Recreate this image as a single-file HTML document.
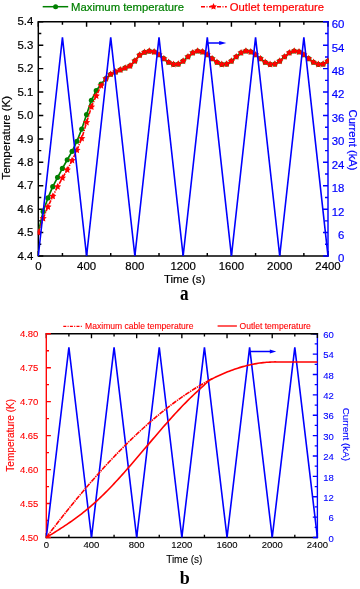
<!DOCTYPE html>
<html><head><meta charset="utf-8"><title>Temperature and current</title><style>
html,body{margin:0;padding:0;background:#fff;width:360px;height:589px;overflow:hidden;}
svg{display:block;will-change:transform;}
text{font-family:"Liberation Sans",sans-serif;}
.serif{font-family:"Liberation Serif",serif;font-weight:bold;}
text{stroke-width:0.2px;}
text[fill="#000"]{stroke:#000;} text[fill="#ff0000"]{stroke:#ff0000;} text[fill="#0000ff"]{stroke:#0000ff;} text[fill="#008000"]{stroke:#008000;}
text.serif{stroke:none;} text.b{stroke-width:0.1px;}
</style></head><body>
<svg width="360" height="589" viewBox="0 0 360 589">
<rect x="0" y="0" width="360" height="589" fill="#fff"/>
<defs><clipPath id="clipA"><rect x="37.6" y="21.1" width="291.1" height="235.6"/></clipPath><clipPath id="clipB"><rect x="45.6" y="333.05" width="272.5" height="205.15"/></clipPath></defs>
<path d="M38.3 256 V251 M38.3 21.8 V26.8 M62.44 256 V253 M62.44 21.8 V24.8 M86.58 256 V251 M86.58 21.8 V26.8 M110.72 256 V253 M110.72 21.8 V24.8 M134.87 256 V251 M134.87 21.8 V26.8 M159.01 256 V253 M159.01 21.8 V24.8 M183.15 256 V251 M183.15 21.8 V26.8 M207.29 256 V253 M207.29 21.8 V24.8 M231.43 256 V251 M231.43 21.8 V26.8 M255.57 256 V253 M255.57 21.8 V24.8 M279.72 256 V251 M279.72 21.8 V26.8 M303.86 256 V253 M303.86 21.8 V24.8 M328 256 V251 M328 21.8 V26.8 M38.3 256 H43.3 M38.3 244.29 H41.3 M38.3 232.58 H43.3 M38.3 220.87 H41.3 M38.3 209.16 H43.3 M38.3 197.45 H41.3 M38.3 185.74 H43.3 M38.3 174.03 H41.3 M38.3 162.32 H43.3 M38.3 150.61 H41.3 M38.3 138.9 H43.3 M38.3 127.19 H41.3 M38.3 115.48 H43.3 M38.3 103.77 H41.3 M38.3 92.06 H43.3 M38.3 80.35 H41.3 M38.3 68.64 H43.3 M38.3 56.93 H41.3 M38.3 45.22 H43.3 M38.3 33.51 H41.3 M38.3 21.8 H43.3" stroke="#000" stroke-width="1.45" fill="none"/>
<path d="M38.3 21.8 H328 M38.3 256 H328 M38.3 21.8 V256" stroke="#000" stroke-width="1.45" fill="none" stroke-linecap="square"/>
<path d="M328 256 H323 M328 244.29 H325 M328 232.58 H323 M328 220.87 H325 M328 209.16 H323 M328 197.45 H325 M328 185.74 H323 M328 174.03 H325 M328 162.32 H323 M328 150.61 H325 M328 138.9 H323 M328 127.19 H325 M328 115.48 H323 M328 103.77 H325 M328 92.06 H323 M328 80.35 H325 M328 68.64 H323 M328 56.93 H325 M328 45.22 H323 M328 33.51 H325 M328 21.8 H323" stroke="#0000ff" stroke-width="1.45" fill="none"/>
<path d="M328 21.8 V256" stroke="#0000ff" stroke-width="1.45" fill="none" stroke-linecap="square"/>
<g clip-path="url(#clipA)">
<polyline points="38.3,232.58 43.13,211.5 47.96,197.92 52.78,186.68 57.61,177.31 62.44,168.41 67.27,159.74 72.1,151.31 76.93,141.24 81.75,129.06 86.58,114.54 91.41,100.26 96.24,90.65 101.07,84.1 105.9,78.71 110.72,74.26 115.55,71.92 120.38,69.81 125.21,67.94 130.04,65.83 134.87,60.91 139.69,55.06 144.52,52.25 149.35,51.08 154.18,51.85 159.01,54.74 163.84,58.65 168.67,62.26 173.49,64.33 178.32,64.05 183.15,61.11 187.98,56.73 192.81,52.79 197.63,50.98 202.46,51.85 207.29,54.74 212.12,58.65 216.95,62.26 221.78,64.33 226.61,64.05 231.43,61.11 236.26,56.73 241.09,52.79 245.92,50.98 250.75,51.85 255.57,54.74 260.4,58.65 265.23,62.26 270.06,64.33 274.89,64.05 279.72,61.11 284.54,56.73 289.37,52.79 294.2,50.98 299.03,51.85 303.86,54.74 308.69,58.65 313.51,62.26 318.34,64.33 323.17,64.05 328,61.11" fill="none" stroke="#008000" stroke-width="1.7" stroke-linejoin="round"/>
<circle cx="43.13" cy="211.5" r="2.6" fill="#008000"/>
<circle cx="47.96" cy="197.92" r="2.6" fill="#008000"/>
<circle cx="52.78" cy="186.68" r="2.6" fill="#008000"/>
<circle cx="57.61" cy="177.31" r="2.6" fill="#008000"/>
<circle cx="62.44" cy="168.41" r="2.6" fill="#008000"/>
<circle cx="67.27" cy="159.74" r="2.6" fill="#008000"/>
<circle cx="72.1" cy="151.31" r="2.6" fill="#008000"/>
<circle cx="76.93" cy="141.24" r="2.6" fill="#008000"/>
<circle cx="81.75" cy="129.06" r="2.6" fill="#008000"/>
<circle cx="86.58" cy="114.54" r="2.6" fill="#008000"/>
<circle cx="91.41" cy="100.26" r="2.6" fill="#008000"/>
<circle cx="96.24" cy="90.65" r="2.6" fill="#008000"/>
<circle cx="101.07" cy="84.1" r="2.6" fill="#008000"/>
<circle cx="105.9" cy="78.71" r="2.6" fill="#008000"/>
<circle cx="110.72" cy="74.26" r="2.6" fill="#008000"/>
<circle cx="115.55" cy="71.92" r="2.6" fill="#008000"/>
<circle cx="120.38" cy="69.81" r="2.6" fill="#008000"/>
<circle cx="125.21" cy="67.94" r="2.6" fill="#008000"/>
<circle cx="130.04" cy="65.83" r="2.6" fill="#008000"/>
<circle cx="134.87" cy="60.91" r="2.6" fill="#008000"/>
<circle cx="139.69" cy="55.06" r="2.6" fill="#008000"/>
<circle cx="144.52" cy="52.25" r="2.6" fill="#008000"/>
<circle cx="149.35" cy="51.08" r="2.6" fill="#008000"/>
<circle cx="154.18" cy="51.85" r="2.6" fill="#008000"/>
<circle cx="159.01" cy="54.74" r="2.6" fill="#008000"/>
<circle cx="163.84" cy="58.65" r="2.6" fill="#008000"/>
<circle cx="168.67" cy="62.26" r="2.6" fill="#008000"/>
<circle cx="173.49" cy="64.33" r="2.6" fill="#008000"/>
<circle cx="178.32" cy="64.05" r="2.6" fill="#008000"/>
<circle cx="183.15" cy="61.11" r="2.6" fill="#008000"/>
<circle cx="187.98" cy="56.73" r="2.6" fill="#008000"/>
<circle cx="192.81" cy="52.79" r="2.6" fill="#008000"/>
<circle cx="197.63" cy="50.98" r="2.6" fill="#008000"/>
<circle cx="202.46" cy="51.85" r="2.6" fill="#008000"/>
<circle cx="207.29" cy="54.74" r="2.6" fill="#008000"/>
<circle cx="212.12" cy="58.65" r="2.6" fill="#008000"/>
<circle cx="216.95" cy="62.26" r="2.6" fill="#008000"/>
<circle cx="221.78" cy="64.33" r="2.6" fill="#008000"/>
<circle cx="226.61" cy="64.05" r="2.6" fill="#008000"/>
<circle cx="231.43" cy="61.11" r="2.6" fill="#008000"/>
<circle cx="236.26" cy="56.73" r="2.6" fill="#008000"/>
<circle cx="241.09" cy="52.79" r="2.6" fill="#008000"/>
<circle cx="245.92" cy="50.98" r="2.6" fill="#008000"/>
<circle cx="250.75" cy="51.85" r="2.6" fill="#008000"/>
<circle cx="255.57" cy="54.74" r="2.6" fill="#008000"/>
<circle cx="260.4" cy="58.65" r="2.6" fill="#008000"/>
<circle cx="265.23" cy="62.26" r="2.6" fill="#008000"/>
<circle cx="270.06" cy="64.33" r="2.6" fill="#008000"/>
<circle cx="274.89" cy="64.05" r="2.6" fill="#008000"/>
<circle cx="279.72" cy="61.11" r="2.6" fill="#008000"/>
<circle cx="284.54" cy="56.73" r="2.6" fill="#008000"/>
<circle cx="289.37" cy="52.79" r="2.6" fill="#008000"/>
<circle cx="294.2" cy="50.98" r="2.6" fill="#008000"/>
<circle cx="299.03" cy="51.85" r="2.6" fill="#008000"/>
<circle cx="303.86" cy="54.74" r="2.6" fill="#008000"/>
<circle cx="308.69" cy="58.65" r="2.6" fill="#008000"/>
<circle cx="313.51" cy="62.26" r="2.6" fill="#008000"/>
<circle cx="318.34" cy="64.33" r="2.6" fill="#008000"/>
<circle cx="323.17" cy="64.05" r="2.6" fill="#008000"/>
<circle cx="328" cy="61.11" r="2.6" fill="#008000"/>
<polyline points="38.3,232.58 43.13,218.53 47.96,206.82 52.78,196.28 57.61,186.68 62.44,178.01 67.27,169.81 72.1,160.45 76.93,150.14 81.75,138.43 86.58,122.51 91.41,106.81 96.24,95.81 101.07,85.74 105.9,78.71 110.72,74.26 115.55,71.92 120.38,69.81 125.21,67.94 130.04,65.83 134.87,60.91 139.69,55.06 144.52,52.25 149.35,51.08 154.18,51.85 159.01,54.74 163.84,58.65 168.67,62.26 173.49,64.33 178.32,64.05 183.15,61.11 187.98,56.73 192.81,52.79 197.63,50.98 202.46,51.85 207.29,54.74 212.12,58.65 216.95,62.26 221.78,64.33 226.61,64.05 231.43,61.11 236.26,56.73 241.09,52.79 245.92,50.98 250.75,51.85 255.57,54.74 260.4,58.65 265.23,62.26 270.06,64.33 274.89,64.05 279.72,61.11 284.54,56.73 289.37,52.79 294.2,50.98 299.03,51.85 303.86,54.74 308.69,58.65 313.51,62.26 318.34,64.33 323.17,64.05 328,61.11" fill="none" stroke="#ff0000" stroke-width="1.6" stroke-dasharray="4.2 1.1 1.2 1.1" stroke-linejoin="round"/>
<path d="M38.3 228.78 L39.39 231.08 L41.91 231.41 L40.06 233.15 L40.53 235.65 L38.3 234.43 L36.07 235.65 L36.54 233.15 L34.69 231.41 L37.21 231.08Z M43.13 214.73 L44.22 217.03 L46.74 217.35 L44.89 219.1 L45.36 221.6 L43.13 220.38 L40.89 221.6 L41.37 219.1 L39.51 217.35 L42.04 217.03Z M47.96 203.02 L49.04 205.32 L51.57 205.64 L49.72 207.39 L50.19 209.89 L47.96 208.67 L45.72 209.89 L46.2 207.39 L44.34 205.64 L46.87 205.32Z M52.78 192.48 L53.87 194.78 L56.4 195.1 L54.54 196.85 L55.02 199.35 L52.78 198.13 L50.55 199.35 L51.03 196.85 L49.17 195.1 L51.7 194.78Z M57.61 182.88 L58.7 185.18 L61.23 185.5 L59.37 187.25 L59.85 189.75 L57.61 188.53 L55.38 189.75 L55.85 187.25 L54 185.5 L56.53 185.18Z M62.44 174.21 L63.53 176.51 L66.06 176.84 L64.2 178.58 L64.68 181.09 L62.44 179.86 L60.21 181.09 L60.68 178.58 L58.83 176.84 L61.35 176.51Z M67.27 166.01 L68.36 168.32 L70.88 168.64 L69.03 170.39 L69.5 172.89 L67.27 171.66 L65.04 172.89 L65.51 170.39 L63.66 168.64 L66.18 168.32Z M72.1 156.65 L73.19 158.95 L75.71 159.27 L73.86 161.02 L74.33 163.52 L72.1 162.3 L69.86 163.52 L70.34 161.02 L68.48 159.27 L71.01 158.95Z M76.93 146.34 L78.01 148.64 L80.54 148.97 L78.69 150.71 L79.16 153.22 L76.93 151.99 L74.69 153.22 L75.17 150.71 L73.31 148.97 L75.84 148.64Z M81.75 134.63 L82.84 136.93 L85.37 137.26 L83.51 139 L83.99 141.51 L81.75 140.28 L79.52 141.51 L80 139 L78.14 137.26 L80.67 136.93Z M86.58 118.71 L87.67 121.01 L90.2 121.33 L88.34 123.08 L88.82 125.58 L86.58 124.36 L84.35 125.58 L84.82 123.08 L82.97 121.33 L85.5 121.01Z M91.41 103.01 L92.5 105.32 L95.03 105.64 L93.17 107.39 L93.65 109.89 L91.41 108.66 L89.18 109.89 L89.65 107.39 L87.8 105.64 L90.32 105.32Z M96.24 92.01 L97.33 94.31 L99.85 94.63 L98 96.38 L98.47 98.88 L96.24 97.66 L94.01 98.88 L94.48 96.38 L92.63 94.63 L95.15 94.31Z M101.07 81.94 L102.16 84.24 L104.68 84.56 L102.83 86.31 L103.3 88.81 L101.07 87.59 L98.83 88.81 L99.31 86.31 L97.45 84.56 L99.98 84.24Z M105.9 74.91 L106.98 77.21 L109.51 77.54 L107.66 79.28 L108.13 81.78 L105.9 80.56 L103.66 81.78 L104.14 79.28 L102.28 77.54 L104.81 77.21Z M110.72 70.46 L111.81 72.76 L114.34 73.09 L112.48 74.83 L112.96 77.34 L110.72 76.11 L108.49 77.34 L108.97 74.83 L107.11 73.09 L109.64 72.76Z M115.55 68.12 L116.64 70.42 L119.17 70.74 L117.31 72.49 L117.79 74.99 L115.55 73.77 L113.32 74.99 L113.79 72.49 L111.94 70.74 L114.47 70.42Z M120.38 66.01 L121.47 68.31 L124 68.64 L122.14 70.38 L122.62 72.89 L120.38 71.66 L118.15 72.89 L118.62 70.38 L116.77 68.64 L119.29 68.31Z M125.21 64.14 L126.3 66.44 L128.82 66.76 L126.97 68.51 L127.44 71.01 L125.21 69.79 L122.98 71.01 L123.45 68.51 L121.6 66.76 L124.12 66.44Z M130.04 62.03 L131.13 64.33 L133.65 64.66 L131.8 66.4 L132.27 68.9 L130.04 67.68 L127.8 68.9 L128.28 66.4 L126.42 64.66 L128.95 64.33Z M134.87 57.11 L135.95 59.41 L138.48 59.74 L136.63 61.48 L137.1 63.99 L134.87 62.76 L132.63 63.99 L133.11 61.48 L131.25 59.74 L133.78 59.41Z M139.69 51.26 L140.78 53.56 L143.31 53.88 L141.45 55.63 L141.93 58.13 L139.69 56.91 L137.46 58.13 L137.94 55.63 L136.08 53.88 L138.61 53.56Z M144.52 48.45 L145.61 50.75 L148.14 51.07 L146.28 52.82 L146.76 55.32 L144.52 54.1 L142.29 55.32 L142.76 52.82 L140.91 51.07 L143.44 50.75Z M149.35 47.28 L150.44 49.58 L152.97 49.9 L151.11 51.65 L151.59 54.15 L149.35 52.93 L147.12 54.15 L147.59 51.65 L145.74 49.9 L148.26 49.58Z M154.18 48.05 L155.27 50.35 L157.79 50.68 L155.94 52.42 L156.41 54.93 L154.18 53.7 L151.95 54.93 L152.42 52.42 L150.57 50.68 L153.09 50.35Z M159.01 50.94 L160.1 53.24 L162.62 53.56 L160.77 55.31 L161.24 57.81 L159.01 56.59 L156.77 57.81 L157.25 55.31 L155.39 53.56 L157.92 53.24Z M163.84 54.85 L164.92 57.16 L167.45 57.48 L165.6 59.22 L166.07 61.73 L163.84 60.5 L161.6 61.73 L162.08 59.22 L160.22 57.48 L162.75 57.16Z M168.67 58.46 L169.75 60.76 L172.28 61.09 L170.42 62.83 L170.9 65.33 L168.67 64.11 L166.43 65.33 L166.91 62.83 L165.05 61.09 L167.58 60.76Z M173.49 60.53 L174.58 62.83 L177.11 63.15 L175.25 64.9 L175.73 67.4 L173.49 66.18 L171.26 67.4 L171.73 64.9 L169.88 63.15 L172.41 62.83Z M178.32 60.25 L179.41 62.55 L181.94 62.87 L180.08 64.62 L180.56 67.12 L178.32 65.9 L176.09 67.12 L176.56 64.62 L174.71 62.87 L177.23 62.55Z M183.15 57.31 L184.24 59.62 L186.76 59.94 L184.91 61.68 L185.38 64.19 L183.15 62.96 L180.92 64.19 L181.39 61.68 L179.54 59.94 L182.06 59.62Z M187.98 52.93 L189.07 55.24 L191.59 55.56 L189.74 57.3 L190.21 59.81 L187.98 58.58 L185.74 59.81 L186.22 57.3 L184.36 55.56 L186.89 55.24Z M192.81 48.99 L193.89 51.29 L196.42 51.62 L194.57 53.36 L195.04 55.86 L192.81 54.64 L190.57 55.86 L191.05 53.36 L189.19 51.62 L191.72 51.29Z M197.63 47.18 L198.72 49.48 L201.25 49.81 L199.39 51.55 L199.87 54.06 L197.63 52.83 L195.4 54.06 L195.88 51.55 L194.02 49.81 L196.55 49.48Z M202.46 48.05 L203.55 50.35 L206.08 50.68 L204.22 52.42 L204.7 54.93 L202.46 53.7 L200.23 54.93 L200.7 52.42 L198.85 50.68 L201.38 50.35Z M207.29 50.94 L208.38 53.24 L210.91 53.56 L209.05 55.31 L209.53 57.81 L207.29 56.59 L205.06 57.81 L205.53 55.31 L203.68 53.56 L206.2 53.24Z M212.12 54.85 L213.21 57.16 L215.73 57.48 L213.88 59.22 L214.35 61.73 L212.12 60.5 L209.89 61.73 L210.36 59.22 L208.51 57.48 L211.03 57.16Z M216.95 58.46 L218.04 60.76 L220.56 61.09 L218.71 62.83 L219.18 65.33 L216.95 64.11 L214.71 65.33 L215.19 62.83 L213.33 61.09 L215.86 60.76Z M221.78 60.53 L222.86 62.83 L225.39 63.15 L223.54 64.9 L224.01 67.4 L221.78 66.18 L219.54 67.4 L220.02 64.9 L218.16 63.15 L220.69 62.83Z M226.61 60.25 L227.69 62.55 L230.22 62.87 L228.36 64.62 L228.84 67.12 L226.61 65.9 L224.37 67.12 L224.85 64.62 L222.99 62.87 L225.52 62.55Z M231.43 57.31 L232.52 59.62 L235.05 59.94 L233.19 61.68 L233.67 64.19 L231.43 62.96 L229.2 64.19 L229.67 61.68 L227.82 59.94 L230.35 59.62Z M236.26 52.93 L237.35 55.24 L239.88 55.56 L238.02 57.3 L238.5 59.81 L236.26 58.58 L234.03 59.81 L234.5 57.3 L232.65 55.56 L235.17 55.24Z M241.09 48.99 L242.18 51.29 L244.7 51.62 L242.85 53.36 L243.32 55.86 L241.09 54.64 L238.86 55.86 L239.33 53.36 L237.48 51.62 L240 51.29Z M245.92 47.18 L247.01 49.48 L249.53 49.81 L247.68 51.55 L248.15 54.06 L245.92 52.83 L243.68 54.06 L244.16 51.55 L242.3 49.81 L244.83 49.48Z M250.75 48.05 L251.83 50.35 L254.36 50.68 L252.51 52.42 L252.98 54.93 L250.75 53.7 L248.51 54.93 L248.99 52.42 L247.13 50.68 L249.66 50.35Z M255.57 50.94 L256.66 53.24 L259.19 53.56 L257.33 55.31 L257.81 57.81 L255.57 56.59 L253.34 57.81 L253.82 55.31 L251.96 53.56 L254.49 53.24Z M260.4 54.85 L261.49 57.16 L264.02 57.48 L262.16 59.22 L262.64 61.73 L260.4 60.5 L258.17 61.73 L258.64 59.22 L256.79 57.48 L259.32 57.16Z M265.23 58.46 L266.32 60.76 L268.85 61.09 L266.99 62.83 L267.47 65.33 L265.23 64.11 L263 65.33 L263.47 62.83 L261.62 61.09 L264.14 60.76Z M270.06 60.53 L271.15 62.83 L273.67 63.15 L271.82 64.9 L272.29 67.4 L270.06 66.18 L267.83 67.4 L268.3 64.9 L266.45 63.15 L268.97 62.83Z M274.89 60.25 L275.98 62.55 L278.5 62.87 L276.65 64.62 L277.12 67.12 L274.89 65.9 L272.65 67.12 L273.13 64.62 L271.27 62.87 L273.8 62.55Z M279.72 57.31 L280.8 59.62 L283.33 59.94 L281.48 61.68 L281.95 64.19 L279.72 62.96 L277.48 64.19 L277.96 61.68 L276.1 59.94 L278.63 59.62Z M284.54 52.93 L285.63 55.24 L288.16 55.56 L286.3 57.3 L286.78 59.81 L284.54 58.58 L282.31 59.81 L282.79 57.3 L280.93 55.56 L283.46 55.24Z M289.37 48.99 L290.46 51.29 L292.99 51.62 L291.13 53.36 L291.61 55.86 L289.37 54.64 L287.14 55.86 L287.61 53.36 L285.76 51.62 L288.29 51.29Z M294.2 47.18 L295.29 49.48 L297.82 49.81 L295.96 51.55 L296.44 54.06 L294.2 52.83 L291.97 54.06 L292.44 51.55 L290.59 49.81 L293.11 49.48Z M299.03 48.05 L300.12 50.35 L302.64 50.68 L300.79 52.42 L301.26 54.93 L299.03 53.7 L296.8 54.93 L297.27 52.42 L295.42 50.68 L297.94 50.35Z M303.86 50.94 L304.95 53.24 L307.47 53.56 L305.62 55.31 L306.09 57.81 L303.86 56.59 L301.62 57.81 L302.1 55.31 L300.24 53.56 L302.77 53.24Z M308.69 54.85 L309.77 57.16 L312.3 57.48 L310.45 59.22 L310.92 61.73 L308.69 60.5 L306.45 61.73 L306.93 59.22 L305.07 57.48 L307.6 57.16Z M313.51 58.46 L314.6 60.76 L317.13 61.09 L315.27 62.83 L315.75 65.33 L313.51 64.11 L311.28 65.33 L311.76 62.83 L309.9 61.09 L312.43 60.76Z M318.34 60.53 L319.43 62.83 L321.96 63.15 L320.1 64.9 L320.58 67.4 L318.34 66.18 L316.11 67.4 L316.58 64.9 L314.73 63.15 L317.26 62.83Z M323.17 60.25 L324.26 62.55 L326.79 62.87 L324.93 64.62 L325.41 67.12 L323.17 65.9 L320.94 67.12 L321.41 64.62 L319.56 62.87 L322.08 62.55Z M328 57.31 L329.09 59.62 L331.61 59.94 L329.76 61.68 L330.23 64.19 L328 62.96 L325.77 64.19 L326.24 61.68 L324.39 59.94 L326.91 59.62Z" fill="#ff0000"/>
<polyline points="38.3,256 62.44,37.41 86.58,256 110.72,37.41 134.87,256 159.01,37.41 183.15,256 207.29,37.41 231.43,256 255.57,37.41 279.72,256 303.86,37.41 328,256" fill="none" stroke="#0000ff" stroke-width="1.6" stroke-linejoin="miter"/>
</g>
<line x1="208" y1="43" x2="220" y2="43" stroke="#0000ff" stroke-width="1.5"/>
<path d="M219.2 41 L226.3 43 L219.2 45 Z" fill="#0000ff"/>
<text x="33.3" y="259.6" font-size="11.4" text-anchor="end" fill="#000">4.4</text>
<text x="33.3" y="236.18" font-size="11.4" text-anchor="end" fill="#000">4.5</text>
<text x="33.3" y="212.76" font-size="11.4" text-anchor="end" fill="#000">4.6</text>
<text x="33.3" y="189.34" font-size="11.4" text-anchor="end" fill="#000">4.7</text>
<text x="33.3" y="165.92" font-size="11.4" text-anchor="end" fill="#000">4.8</text>
<text x="33.3" y="142.5" font-size="11.4" text-anchor="end" fill="#000">4.9</text>
<text x="33.3" y="119.08" font-size="11.4" text-anchor="end" fill="#000">5.0</text>
<text x="33.3" y="95.66" font-size="11.4" text-anchor="end" fill="#000">5.1</text>
<text x="33.3" y="72.24" font-size="11.4" text-anchor="end" fill="#000">5.2</text>
<text x="33.3" y="48.82" font-size="11.4" text-anchor="end" fill="#000">5.3</text>
<text x="33.3" y="25.4" font-size="11.4" text-anchor="end" fill="#000">5.4</text>
<text x="344.4" y="262.4" font-size="11.4" text-anchor="end" fill="#0000ff">0</text>
<text x="344.4" y="238.98" font-size="11.4" text-anchor="end" fill="#0000ff">6</text>
<text x="344.4" y="215.56" font-size="11.4" text-anchor="end" fill="#0000ff">12</text>
<text x="344.4" y="192.14" font-size="11.4" text-anchor="end" fill="#0000ff">18</text>
<text x="344.4" y="168.72" font-size="11.4" text-anchor="end" fill="#0000ff">24</text>
<text x="344.4" y="145.3" font-size="11.4" text-anchor="end" fill="#0000ff">30</text>
<text x="344.4" y="121.88" font-size="11.4" text-anchor="end" fill="#0000ff">36</text>
<text x="344.4" y="98.46" font-size="11.4" text-anchor="end" fill="#0000ff">42</text>
<text x="344.4" y="75.04" font-size="11.4" text-anchor="end" fill="#0000ff">48</text>
<text x="344.4" y="51.62" font-size="11.4" text-anchor="end" fill="#0000ff">54</text>
<text x="344.4" y="28.2" font-size="11.4" text-anchor="end" fill="#0000ff">60</text>
<text x="38.3" y="270" font-size="11.4" text-anchor="middle" fill="#000">0</text>
<text x="86.58" y="270" font-size="11.4" text-anchor="middle" fill="#000">400</text>
<text x="134.87" y="270" font-size="11.4" text-anchor="middle" fill="#000">800</text>
<text x="183.15" y="270" font-size="11.4" text-anchor="middle" fill="#000">1200</text>
<text x="231.43" y="270" font-size="11.4" text-anchor="middle" fill="#000">1600</text>
<text x="279.72" y="270" font-size="11.4" text-anchor="middle" fill="#000">2000</text>
<text x="328" y="270" font-size="11.4" text-anchor="middle" fill="#000">2400</text>
<text x="184.7" y="282.6" font-size="11.4" text-anchor="middle" fill="#000">Time (s)</text>
<text transform="translate(9.6 137.75) rotate(-90)" font-size="11.6" text-anchor="middle" fill="#000">Temperature (K)</text>
<text transform="translate(349 140) rotate(90)" font-size="11.2" text-anchor="middle" fill="#0000ff">Current (kA)</text>
<text class="serif" transform="translate(184.2 300) scale(0.86 1)" font-size="20" text-anchor="middle" fill="#000">a</text>
<line x1="42.7" y1="6.7" x2="68.2" y2="6.7" stroke="#008000" stroke-width="1.5"/>
<circle cx="55.6" cy="6.7" r="2.5" fill="#008000"/>
<text x="71.1" y="10.6" font-size="11.3" fill="#008000">Maximum temperature</text>
<line x1="201" y1="6.7" x2="226.8" y2="6.7" stroke="#ff0000" stroke-width="1.5" stroke-dasharray="4 1.5 1 1.5"/>
<path d="M213.5 3.1 L214.5 5.32 L216.92 5.59 L215.12 7.23 L215.62 9.61 L213.5 8.4 L211.38 9.61 L211.88 7.23 L210.08 5.59 L212.5 5.32Z" fill="#ff0000"/>
<text x="229.8" y="10.6" font-size="11.3" fill="#ff0000">Outlet temperature</text>
<path d="M46.3 537.5 V532.9 M46.3 333.75 V338.35 M68.89 537.5 V534.8 M68.89 333.75 V336.45 M91.48 537.5 V532.9 M91.48 333.75 V338.35 M114.07 537.5 V534.8 M114.07 333.75 V336.45 M136.67 537.5 V532.9 M136.67 333.75 V338.35 M159.26 537.5 V534.8 M159.26 333.75 V336.45 M181.85 537.5 V532.9 M181.85 333.75 V338.35 M204.44 537.5 V534.8 M204.44 333.75 V336.45 M227.03 537.5 V532.9 M227.03 333.75 V338.35 M249.62 537.5 V534.8 M249.62 333.75 V336.45 M272.22 537.5 V532.9 M272.22 333.75 V338.35 M294.81 537.5 V534.8 M294.81 333.75 V336.45 M317.4 537.5 V532.9" stroke="#000" stroke-width="1.35" fill="none"/>
<path d="M46.3 333.75 H317.4 M46.3 537.5 H317.4" stroke="#000" stroke-width="1.35" fill="none" stroke-linecap="square"/>
<path d="M46.3 537.5 H50.9 M46.3 520.52 H49 M46.3 503.54 H50.9 M46.3 486.56 H49 M46.3 469.58 H50.9 M46.3 452.6 H49 M46.3 435.62 H50.9 M46.3 418.65 H49 M46.3 401.67 H50.9 M46.3 384.69 H49 M46.3 367.71 H50.9 M46.3 350.73 H49 M46.3 333.75 H50.9" stroke="#ff0000" stroke-width="1.35" fill="none"/>
<path d="M46.3 333.75 V537.5" stroke="#ff0000" stroke-width="1.35" fill="none" stroke-linecap="square"/>
<path d="M317.4 537.5 H312.8 M317.4 527.31 H314.7 M317.4 517.12 H312.8 M317.4 506.94 H314.7 M317.4 496.75 H312.8 M317.4 486.56 H314.7 M317.4 476.38 H312.8 M317.4 466.19 H314.7 M317.4 456 H312.8 M317.4 445.81 H314.7 M317.4 435.62 H312.8 M317.4 425.44 H314.7 M317.4 415.25 H312.8 M317.4 405.06 H314.7 M317.4 394.88 H312.8 M317.4 384.69 H314.7 M317.4 374.5 H312.8 M317.4 364.31 H314.7 M317.4 354.12 H312.8 M317.4 343.94 H314.7 M317.4 333.75 H312.8" stroke="#0000ff" stroke-width="1.35" fill="none"/>
<path d="M317.4 333.75 V537.5" stroke="#0000ff" stroke-width="1.35" fill="none" stroke-linecap="square"/>
<path d="M311.4 333.75 H317.4 V337.25" stroke="#000" stroke-width="1.35" fill="none" stroke-linecap="square"/>
<g clip-path="url(#clipB)">
<polyline points="46.3,537.5 68.89,347.33 91.48,537.5 114.07,347.33 136.67,537.5 159.26,347.33 181.85,537.5 204.44,347.33 227.03,537.5 249.62,347.33 272.22,537.5 294.81,347.33 317.4,537.5" fill="none" stroke="#0000ff" stroke-width="1.6" stroke-linejoin="miter"/>
<polyline points="46.3,537.5 47.99,536.46 49.69,535.42 51.38,534.37 53.08,533.32 54.77,532.25 56.47,531.19 58.16,530.11 59.85,529.02 61.55,527.92 63.24,526.81 64.94,525.69 66.63,524.55 68.33,523.4 70.02,522.23 71.72,521.04 73.41,519.84 75.1,518.62 76.8,517.38 78.49,516.12 80.19,514.84 81.88,513.53 83.58,512.2 85.27,510.85 86.96,509.47 88.66,508.06 90.35,506.63 92.05,505.17 93.74,503.68 95.44,502.16 97.13,500.61 98.83,499.03 100.52,497.42 102.21,495.78 103.91,494.12 105.6,492.43 107.3,490.71 108.99,488.98 110.69,487.22 112.38,485.43 114.07,483.63 115.77,481.81 117.46,479.97 119.16,478.11 120.85,476.24 122.55,474.35 124.24,472.44 125.94,470.52 127.63,468.59 129.32,466.65 131.02,464.7 132.71,462.74 134.41,460.77 136.1,458.8 137.8,456.82 139.49,454.83 141.18,452.84 142.88,450.85 144.57,448.85 146.27,446.86 147.96,444.86 149.66,442.86 151.35,440.87 153.05,438.88 154.74,436.9 156.43,434.92 158.13,432.94 159.82,430.98 161.52,429.02 163.21,427.07 164.91,425.14 166.6,423.21 168.29,421.3 169.99,419.4 171.68,417.51 173.38,415.64 175.07,413.79 176.77,411.95 178.46,410.13 180.16,408.34 181.85,406.56 183.54,404.81 185.24,403.07 186.93,401.36 188.63,399.68 190.32,398.02 192.02,396.39 193.71,394.77 195.4,393.17 197.1,391.58 198.79,390.01 200.49,388.44 202.18,386.87 203.88,385.31 205.57,383.75 207.27,382.18 208.96,380.6 209.3,380.29 210.65,379.58 212.35,378.71 214.04,377.86 215.74,377.03 217.43,376.22 219.13,375.43 220.82,374.66 222.51,373.92 224.21,373.19 225.9,372.48 227.6,371.8 229.29,371.14 230.99,370.5 232.68,369.88 234.38,369.28 236.07,368.71 237.76,368.15 239.46,367.63 241.15,367.12 242.85,366.64 244.54,366.18 246.24,365.74 247.93,365.33 249.62,364.93 251.32,364.57 253.01,364.22 254.71,363.9 256.4,363.6 258.1,363.33 259.79,363.08 261.49,362.85 263.18,362.65 264.87,362.47 266.57,362.32 268.26,362.19 269.96,362.08 271.65,362 273.35,361.94 275.04,361.91 276.73,362.07 278.43,362.07 280.12,362.07 281.82,362.07 283.51,362.07 317.4,362.07" fill="none" stroke="#ff0000" stroke-width="1.6" stroke-linejoin="round"/>
<polyline points="46.3,537.49 47.99,535.25 49.69,533.02 51.38,530.81 53.08,528.6 54.77,526.4 56.47,524.22 58.16,522.04 59.85,519.87 61.55,517.72 63.24,515.58 64.94,513.44 66.63,511.32 68.33,509.21 70.02,507.11 71.72,505.02 73.41,502.95 75.1,500.88 76.8,498.83 78.49,496.78 80.19,494.75 81.88,492.73 83.58,490.72 85.27,488.73 86.96,486.75 88.66,484.77 90.35,482.81 92.05,480.87 93.74,478.93 95.44,477.01 97.13,475.1 98.83,473.2 100.52,471.31 102.21,469.44 103.91,467.58 105.6,465.73 107.3,463.9 108.99,462.08 110.69,460.27 112.38,458.47 114.07,456.69 115.77,454.92 117.46,453.17 119.16,451.43 120.85,449.7 122.55,447.98 124.24,446.28 125.94,444.59 127.63,442.92 129.32,441.26 131.02,439.62 132.71,437.98 134.41,436.37 136.1,434.76 137.8,433.18 139.49,431.6 141.18,430.04 142.88,428.5 144.57,426.97 146.27,425.45 147.96,423.95 149.66,422.46 151.35,420.99 153.05,419.53 154.74,418.09 156.43,416.67 158.13,415.26 159.82,413.86 161.52,412.48 163.21,411.12 164.91,409.77 166.6,408.44 168.29,407.12 169.99,405.82 171.68,404.53 173.38,403.26 175.07,402.01 176.77,400.77 178.46,399.55 180.16,398.34 181.85,397.16 183.54,395.98 185.24,394.83 186.93,393.69 188.63,392.57 190.32,391.46 192.02,390.37 193.71,389.3 195.4,388.25 197.1,387.21 198.79,386.19 200.49,385.19 202.18,384.21 203.88,383.25 205.57,382.3 207.27,381.37 208.96,380.47 209.3,380.29 210.65,379.58 212.35,378.71" fill="none" stroke="#ff0000" stroke-width="1.6" stroke-dasharray="5 0.8 1.4 0.8" stroke-linejoin="round"/>
</g>
<line x1="250" y1="351.5" x2="270" y2="351.5" stroke="#0000ff" stroke-width="1.5"/>
<path d="M269.8 349.5 L276.2 351.5 L269.8 353.5 Z" fill="#0000ff"/>
<text class="b" x="38.4" y="540.5" font-size="9.5" text-anchor="end" fill="#ff0000">4.50</text>
<text class="b" x="38.4" y="506.54" font-size="9.5" text-anchor="end" fill="#ff0000">4.55</text>
<text class="b" x="38.4" y="472.58" font-size="9.5" text-anchor="end" fill="#ff0000">4.60</text>
<text class="b" x="38.4" y="438.62" font-size="9.5" text-anchor="end" fill="#ff0000">4.65</text>
<text class="b" x="38.4" y="404.67" font-size="9.5" text-anchor="end" fill="#ff0000">4.70</text>
<text class="b" x="38.4" y="370.71" font-size="9.5" text-anchor="end" fill="#ff0000">4.75</text>
<text class="b" x="38.4" y="336.75" font-size="9.5" text-anchor="end" fill="#ff0000">4.80</text>
<text class="b" x="333.9" y="541.7" font-size="9.5" text-anchor="end" fill="#0000ff">0</text>
<text class="b" x="333.9" y="521.33" font-size="9.5" text-anchor="end" fill="#0000ff">6</text>
<text class="b" x="333.9" y="500.95" font-size="9.5" text-anchor="end" fill="#0000ff">12</text>
<text class="b" x="333.9" y="480.57" font-size="9.5" text-anchor="end" fill="#0000ff">18</text>
<text class="b" x="333.9" y="460.2" font-size="9.5" text-anchor="end" fill="#0000ff">24</text>
<text class="b" x="333.9" y="439.82" font-size="9.5" text-anchor="end" fill="#0000ff">30</text>
<text class="b" x="333.9" y="419.45" font-size="9.5" text-anchor="end" fill="#0000ff">36</text>
<text class="b" x="333.9" y="399.07" font-size="9.5" text-anchor="end" fill="#0000ff">42</text>
<text class="b" x="333.9" y="378.7" font-size="9.5" text-anchor="end" fill="#0000ff">48</text>
<text class="b" x="333.9" y="358.32" font-size="9.5" text-anchor="end" fill="#0000ff">54</text>
<text class="b" x="333.9" y="337.95" font-size="9.5" text-anchor="end" fill="#0000ff">60</text>
<text class="b" x="46.3" y="547.9" font-size="9.5" text-anchor="middle" fill="#000">0</text>
<text class="b" x="91.48" y="547.9" font-size="9.5" text-anchor="middle" fill="#000">400</text>
<text class="b" x="136.67" y="547.9" font-size="9.5" text-anchor="middle" fill="#000">800</text>
<text class="b" x="181.85" y="547.9" font-size="9.5" text-anchor="middle" fill="#000">1200</text>
<text class="b" x="227.03" y="547.9" font-size="9.5" text-anchor="middle" fill="#000">1600</text>
<text class="b" x="272.22" y="547.9" font-size="9.5" text-anchor="middle" fill="#000">2000</text>
<text class="b" x="317.4" y="547.9" font-size="9.5" text-anchor="middle" fill="#000">2400</text>
<text class="b" x="184.3" y="562.7" font-size="10" text-anchor="middle" fill="#000">Time (s)</text>
<text class="b" transform="translate(13.9 435.25) rotate(-90)" font-size="10.1" text-anchor="middle" fill="#ff0000">Temperature (K)</text>
<text class="b" transform="translate(342.6 434.3) rotate(90)" font-size="9.8" text-anchor="middle" fill="#0000ff">Current (kA)</text>
<text class="serif" x="184.8" y="584" font-size="18" text-anchor="middle" fill="#000">b</text>
<line x1="63.3" y1="326.3" x2="82.5" y2="326.3" stroke="#ff0000" stroke-width="1.3" stroke-dasharray="3 1.3 1 1.3"/>
<text class="b" x="85.1" y="329.2" font-size="8.55" fill="#ff0000">Maximum cable temperature</text>
<line x1="217.6" y1="326" x2="236.9" y2="326" stroke="#ff0000" stroke-width="1.3"/>
<text class="b" x="239.5" y="329.2" font-size="8.55" fill="#ff0000">Outlet temperature</text>
</svg></body></html>
